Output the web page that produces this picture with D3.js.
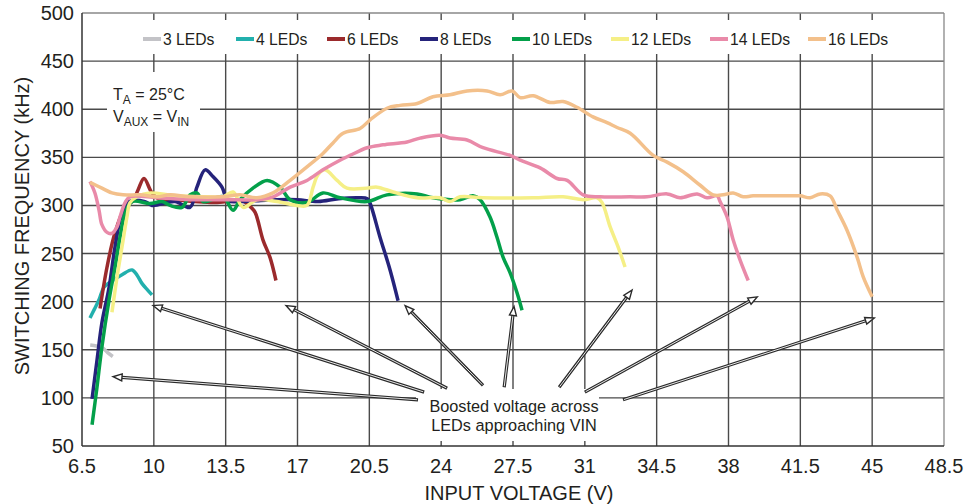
<!DOCTYPE html>
<html>
<head>
<meta charset="utf-8">
<script src="https://cdn.jsdelivr.net/npm/d3@7"></script>
<style>
  body { margin: 0; background: #fff; }
  text { font-family: "Liberation Sans", Arial, sans-serif; fill: #231f20; }
</style>
</head>
<body>
<script>
/*
 * Data: switching frequency (kHz) vs input voltage (V)
 */
let xTicks = [6.5, 10, 13.5, 17, 20.5, 24, 27.5, 31, 34.5, 38, 41.5, 45, 48.5];
let yTicks = [50, 100, 150, 200, 250, 300, 350, 400, 450, 500];

let seriesNames = ["3 LEDs", "4 LEDs", "6 LEDs", "8 LEDs", "10 LEDs", "12 LEDs", "14 LEDs", "16 LEDs"];
let seriesColors = ["#c3c3c7", "#22b0ad", "#9b2a2c", "#25237b", "#03a04a", "#f5ef86", "#e98aa9", "#f3c08b"];

let led3 = [[6.9,155],[7.2,154],[7.5,152],[7.75,147],[8.0,143]];
let led4 = [[6.89,183],[7.1,192],[7.33,202],[7.57,215],[8.0,222],[8.45,228],[8.94,233],[9.2,227],
            [9.42,219],[9.7,212],[9.91,207]];
let led6 = [[7.38,193],[7.72,236],[8.1,271],[8.6,298],[8.99,305],[9.23,316],[9.52,328],[9.91,313],
            [10.3,306],[11,306],[12,304],[13,303],[14,305],[14.4,304],[14.69,299],[14.93,293],
            [15.32,264],[15.66,246],[15.95,222]];
let led8 = [[6.99,99],[7.23,139],[7.47,178],[7.82,215],[8.11,257],[8.45,292],[8.79,304],[9.57,304],
            [9.91,300],[11.03,304],[11.76,298],[12.1,319],[12.5,337],[12.88,330],[13.32,319],[13.6,305],
            [14.2,304],[15,305],[16,306],[17,306],[18,304],[19,307],[20,308],[20.4,307],[20.54,302],
            [21.02,267],[21.51,233],[21.9,201]];
let led10 = [[6.99,72],[7.23,111],[7.47,153],[7.82,202],[8.11,236],[8.35,267],[8.6,292],[8.94,304],
             [9.81,302],[10.4,304],[10.79,300],[11.37,298],[11.76,311],[12.1,313],[12.4,304],[13.37,309],
             [13.86,295],[14.2,306],[14.83,318],[15.52,326],[16.15,319],[16.64,306],[17.46,303],[18.24,313],
             [19.07,308],[20.39,304],[21.36,311],[22.83,312],[23.6,308],[24.92,306],[25.55,310],[25.9,306],
             [26.38,288],[26.72,267],[27.02,246],[27.36,230],[27.7,209],[27.94,191]];
let led12 = [[7.96,189],[8.21,226],[8.45,257],[8.69,288],[8.84,303],[9.18,309],[9.81,313],[11.03,310],
             [12.59,309],[13.37,309],[13.86,314],[14.35,298],[15.03,306],[16.0,304],[16.98,300],[17.46,300],
             [17.76,319],[18.0,332],[18.34,337],[18.93,326],[19.41,318],[20.39,318],[20.88,319],[21.66,314],
             [22.83,308],[23.95,308],[24.43,304],[24.92,309],[26.04,308],[28.48,308],[29.94,309],[30.92,306],
             [31.6,308],[31.84,303],[32.23,278],[32.62,257],[32.96,236]];
let led14 = [[6.89,325],[7.13,313],[7.33,295],[7.47,280],[7.72,272],[7.96,271],[8.21,278],[8.35,288],
             [8.6,303],[8.84,309],[10.15,308],[11.76,306],[13.37,306],[15.03,306],[15.81,309],[16.64,319],
             [17.46,326],[18.24,337],[19.07,347],[19.56,352],[20.39,360],[21.17,363],[22.34,366],[22.97,370],
             [23.95,373],[24.43,370],[25.26,368],[26.04,360],[27.36,352],[27.85,347],[28.82,339],[29.65,328],
             [30.14,326],[30.92,311],[31.75,309],[33.21,309],[34.03,309],[35.01,312],[35.64,308],[36.47,312],
             [36.96,308],[37.45,310],[37.59,304],[37.93,288],[38.23,264],[38.57,243],[38.96,222]];
let led16 = [[6.89,324],[7.47,318],[7.96,313],[8.5,311],[9.33,311],[10.15,309],[10.79,311],[11.76,309],
             [13.37,309],[14.2,311],[15.03,308],[15.81,313],[16.64,326],[17.46,340],[18.24,354],[18.73,365],
             [19.22,375],[20.05,380],[20.54,389],[21.36,401],[22.0,404],[22.83,406],[23.6,413],[24.43,415],
             [25.26,419],[26.24,419],[26.87,415],[27.46,419],[27.85,412],[28.48,414],[29.31,407],[29.94,408],
             [30.62,402],[31.4,392],[32.08,386],[32.57,381],[33.21,375],[34.33,352],[35.01,345],[35.79,335],
             [36.62,321],[37.25,311],[37.74,311],[38.23,313],[38.72,309],[39.2,310],[40.86,310],[41.49,310],
             [41.98,308],[42.47,312],[42.95,310],[43.3,295],[43.78,274],[44.27,246],[44.56,226],[45.0,205]];

let allSeries = [led3, led4, led6, led8, led10, led12, led14, led16];

// Arrows from the note to the end of each curve: [V, kHz] of tail and of head
let arrowTails = [[22.87,98],[23.17,106],[24.29,110],[26.04,113],[27.07,111],[29.75,111],[31.0,106],[32.86,98]];
let arrowHeads = [[8.01,122],[9.96,196],[16.44,196],[22.24,196],[27.55,195],[33.3,212],[39.4,205],[45.1,183]];

/*
 * Playground
 */
let width = 964, height = 504;
let margin = {top: 13, right: 20, bottom: 58, left: 82};

let svg = d3.select("body").append("svg")
    .attr("width", width)
    .attr("height", height);

let xScale = d3.scaleLinear().domain([6.5, 48.5]).range([margin.left, width - margin.right]);
let yScale = d3.scaleLinear().domain([50, 500]).range([height - margin.bottom, margin.top]);

// Grid
let grid = svg.append("g").attr("class", "grid");
grid.selectAll("line.v")
    .data(xTicks.slice(1, -1))
  .enter().append("line")
    .attr("x1", d => xScale(d)).attr("x2", d => xScale(d))
    .attr("y1", yScale(500)).attr("y2", yScale(50))
    .attr("stroke", "#4a4a4a").attr("stroke-width", 1.4);
grid.selectAll("line.h")
    .data(yTicks.slice(1, -1))
  .enter().append("line")
    .attr("x1", xScale(6.5)).attr("x2", xScale(48.5))
    .attr("y1", d => yScale(d)).attr("y2", d => yScale(d))
    .attr("stroke", "#4a4a4a").attr("stroke-width", 1.4);

// frame: top & right lighter, left & bottom black
svg.append("line")
    .attr("x1", xScale(6.5)).attr("x2", xScale(48.5))
    .attr("y1", yScale(500)).attr("y2", yScale(500))
    .attr("stroke", "#888").attr("stroke-width", 1.3);
svg.append("line")
    .attr("x1", xScale(48.5)).attr("x2", xScale(48.5))
    .attr("y1", yScale(500)).attr("y2", yScale(50))
    .attr("stroke", "#888").attr("stroke-width", 1.3);

// White boxes behind the notes (they cut the grid)
svg.append("rect").attr("x", 128).attr("y", 20).attr("width", 776).attr("height", 34).attr("fill", "#fff");
svg.append("rect").attr("x", 107).attr("y", 72).attr("width", 93).attr("height", 60).attr("fill", "#fff");
svg.append("rect").attr("x", 416).attr("y", 389).attr("width", 183).attr("height", 52).attr("fill", "#fff");

// Axes
svg.append("line")
    .attr("x1", xScale(6.5)).attr("x2", xScale(6.5))
    .attr("y1", yScale(500)).attr("y2", yScale(50))
    .attr("stroke", "#333").attr("stroke-width", 1.5);
svg.append("line")
    .attr("x1", xScale(6.5)).attr("x2", xScale(48.5))
    .attr("y1", yScale(50)).attr("y2", yScale(50))
    .attr("stroke", "#333").attr("stroke-width", 1.5);

svg.selectAll("text.ytick")
    .data(yTicks)
  .enter().append("text")
    .attr("class", "ytick")
    .attr("x", xScale(6.5) - 8)
    .attr("y", d => yScale(d) + 7)
    .attr("text-anchor", "end")
    .style("font-size", "20px")
    .text(d => d);

svg.selectAll("text.xtick")
    .data(xTicks)
  .enter().append("text")
    .attr("class", "xtick")
    .attr("x", d => xScale(d))
    .attr("y", yScale(50) + 27)
    .attr("text-anchor", "middle")
    .style("font-size", "20px")
    .text(d => d);

// Axis titles
svg.append("text")
    .attr("text-anchor", "middle")
    .attr("transform", "translate(29," + 226 + ")rotate(-90)")
    .style("font-size", "20px")
    .text("SWITCHING FREQUENCY (kHz)");
svg.append("text")
    .attr("text-anchor", "middle")
    .attr("x", 519).attr("y", 500)
    .style("font-size", "20px")
    .text("INPUT VOLTAGE (V)");

// Curves
let line = d3.line()
    .x(d => xScale(d[0]))
    .y(d => yScale(d[1]))
    .curve(d3.curveCatmullRom.alpha(0.5));

svg.selectAll("path.curve")
    .data(allSeries)
  .enter().append("path")
    .attr("class", "curve")
    .attr("fill", "none")
    .attr("stroke", (d, i) => seriesColors[i])
    .attr("stroke-width", 3.5)
    .attr("stroke-linejoin", "round")
    .attr("stroke-linecap", "butt")
    .attr("d", line);

// Legend
let legendX = [143, 236, 327, 420, 512, 611, 710, 808];
let legend = svg.selectAll("g.legend")
    .data(seriesNames)
  .enter().append("g")
    .attr("class", "legend")
    .attr("transform", (d, i) => "translate(" + legendX[i] + ",39)");
legend.append("line")
    .attr("x1", 0).attr("x2", 18)
    .attr("stroke", (d, i) => seriesColors[i])
    .attr("stroke-width", 4);
legend.append("text")
    .attr("x", 20).attr("y", 5.5)
    .style("font-size", "15.7px")
    .text(d => d);

// Conditions note
let note = svg.append("text").attr("x", 113).attr("y", 100).style("font-size", "16px");
note.append("tspan").text("T");
note.append("tspan").attr("dy", 4).style("font-size", "12px").text("A");
note.append("tspan").attr("dy", -4).text(" = 25°C");
let note2 = svg.append("text").attr("x", 113).attr("y", 122).style("font-size", "16px");
note2.append("tspan").text("V");
note2.append("tspan").attr("dy", 4).style("font-size", "12px").text("AUX");
note2.append("tspan").attr("dy", -4).text(" = V");
note2.append("tspan").attr("dy", 4).style("font-size", "12px").text("IN");

// Arrows (double line with open head)
let arrows = svg.append("g").attr("class", "arrows");
arrowTails.forEach(function(t, i) {
  let x1 = xScale(t[0]), y1 = yScale(t[1]);
  let x2 = xScale(arrowHeads[i][0]), y2 = yScale(arrowHeads[i][1]);
  let ang = Math.atan2(y2 - y1, x2 - x1);
  let hl = 9, hw = 3.5;
  let bx = x2 - hl * Math.cos(ang), by = y2 - hl * Math.sin(ang);
  arrows.append("line")
      .attr("x1", x1).attr("y1", y1).attr("x2", bx).attr("y2", by)
      .attr("stroke", "#2a2a2a").attr("stroke-width", 3.2);
  arrows.append("line")
      .attr("x1", x1 + Math.cos(ang)).attr("y1", y1 + Math.sin(ang)).attr("x2", bx).attr("y2", by)
      .attr("stroke", "#fff").attr("stroke-width", 0.9);
  let pts = [
    [x2, y2],
    [bx + hw * Math.sin(ang), by - hw * Math.cos(ang)],
    [bx - hw * Math.sin(ang), by + hw * Math.cos(ang)]
  ];
  arrows.append("polygon")
      .attr("points", pts.map(p => p.join(",")).join(" "))
      .attr("fill", "#fff").attr("stroke", "#2a2a2a").attr("stroke-width", 1.4)
      .attr("stroke-linejoin", "miter");
});

// Boosted voltage note
svg.append("text")
    .attr("x", 514).attr("y", 412)
    .attr("text-anchor", "middle")
    .style("font-size", "16.3px")
    .text("Boosted voltage across");
svg.append("text")
    .attr("x", 514).attr("y", 431)
    .attr("text-anchor", "middle")
    .style("font-size", "16.3px")
    .text("LEDs approaching VIN");
</script>
</body>
</html>
